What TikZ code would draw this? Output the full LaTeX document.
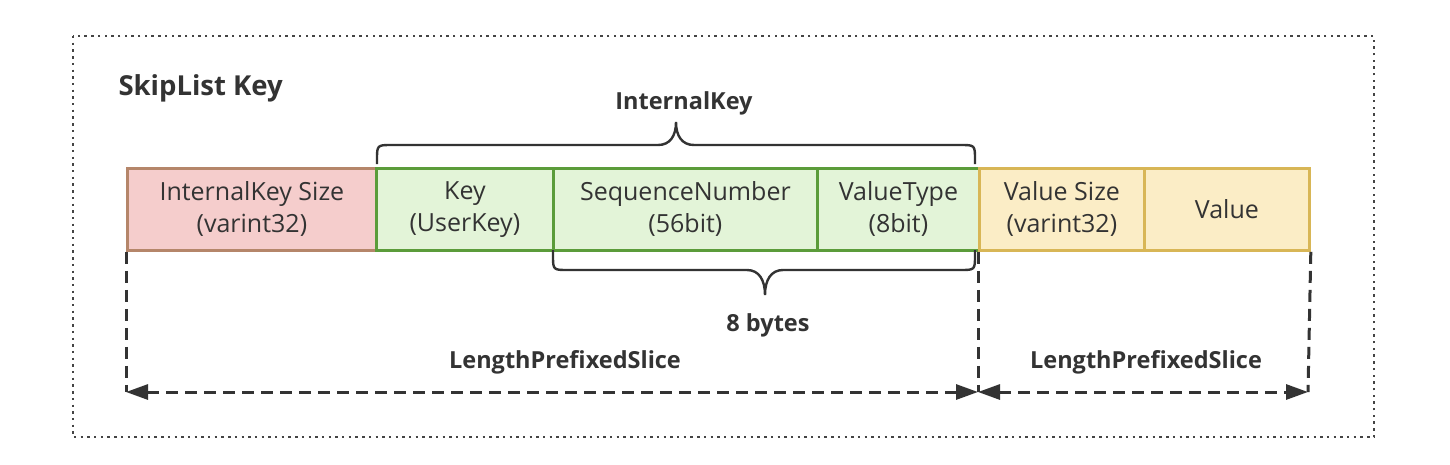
\documentclass[tikz,border=0pt]{standalone}
\usepackage{fontspec}
\setmainfont{Open Sans}
\usetikzlibrary{arrows.meta}
\definecolor{txt}{HTML}{333333}
\definecolor{pinkfill}{HTML}{F5CDCC}
\definecolor{pinkline}{HTML}{B5866A}
\definecolor{greenfill}{HTML}{E3F4D8}
\definecolor{greenline}{HTML}{5B9C3A}
\definecolor{yelfill}{HTML}{FBEDC6}
\definecolor{yelline}{HTML}{D8B656}
\definecolor{dotgray}{HTML}{444444}
\begin{document}
\begin{tikzpicture}[x=1pt,y=-1pt,
  cell/.style={draw, line width=2.8pt, minimum height=82pt, inner sep=0pt, align=center,
    anchor=north west, font=\fontsize{25}{32}\selectfont, text=txt},
  pinkcell/.style={cell, fill=pinkfill, draw=pinkline},
  greencell/.style={cell, fill=greenfill, draw=greenline},
  yelcell/.style={cell, fill=yelfill, draw=yelline},
  brace/.style={draw=txt, line width=2.4pt},
  dim/.style={draw=txt, line width=3pt, dash pattern=on 12pt off 7pt},
  dimarrow/.style={dim, {Triangle[length=22pt,width=15pt]}-{Triangle[length=22pt,width=15pt]}},
  lbl/.style={font=\bfseries\fontsize{23.5}{28}\selectfont, text=txt},
  title/.style={font=\bfseries\fontsize{27.5}{32}\selectfont, text=txt}
]
\useasboundingbox (0,0) rectangle (1450,464);
\fill[white] (0,0) rectangle (1450,464);
\draw[dotgray, line width=2.4pt, dash pattern=on 2.4pt off 4.3pt] (73,36) rectangle (1374,437);
\node[title, anchor=west] (ttl) at (115,88) {SkipList Key};

\node[pinkcell, minimum width=249pt] (isz) at (126,167) {InternalKey Size\\(varint32)};
\node[greencell, minimum width=177pt] (key) at (375,167) {Key\\(UserKey)};
\node[greencell, minimum width=264pt] (seq) at (552,167) {SequenceNumber\\(56bit)};
\node[greencell, minimum width=162pt] (vt) at (816,167) {ValueType\\(8bit)};
\node[yelcell, minimum width=165pt] (vs) at (978,167) {Value Size\\(varint32)};
\node[yelcell, minimum width=165pt] (val) at (1143,167) {Value};

% upper brace
\draw[brace] (377,164) -- (377,160) .. controls (377,145) .. (392,145) -- (658,145)
  .. controls (670,145) and (676,136) .. (676,122)
  .. controls (676,136) and (682,145) .. (694,145) -- (960,145)
  .. controls (975,145) .. (975,160) -- (975,164);
\node[lbl] (ik) at (684,103) {InternalKey};

% lower brace
\draw[brace] (553,250) -- (553,255) .. controls (553,270) .. (568,270) -- (747,270)
  .. controls (759,270) and (765,280) .. (765,295)
  .. controls (765,280) and (771,270) .. (783,270) -- (960,270)
  .. controls (975,270) .. (975,255) -- (975,250);
\node[lbl] (eb) at (768,325) {8 bytes};

% dimension lines
\coordinate (d1) at (126,392);
\coordinate (d2) at (978,392);
\coordinate (d3) at (1308,392);
\draw[dim] (isz.south west) -- (d1);
\draw[dim] (vs.south west) -- (d2);
\draw[dim] (val.south east) -- (d3);
\draw[dimarrow] (d1) -- (d2);
\draw[dimarrow] (d2) -- (d3);
\node[lbl] (lps1) at (565,362) {LengthPrefixedSlice};
\node[lbl] (lps2) at (1146,362) {LengthPrefixedSlice};
\end{tikzpicture}
\end{document}
